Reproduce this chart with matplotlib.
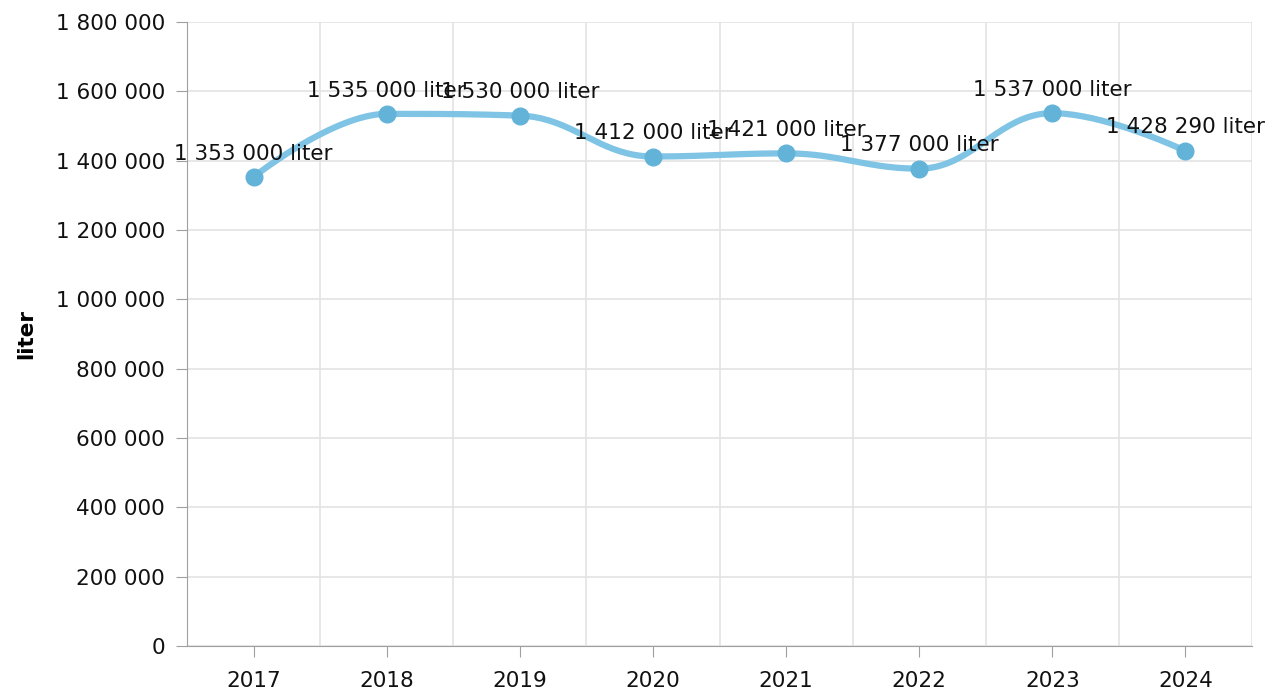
import matplotlib.pyplot as plt
import numpy as np

years = ['2017', '2018', '2019', '2020', '2021', '2022', '2023', '2024']
volumes = [1353000, 1535000, 1530000, 1412000, 1421000, 1377000, 1537000, 1428290]
y_ticks = [0, 200000, 400000, 600000, 800000, 1000000, 1200000, 1400000, 1600000, 1800000]


def fmt(v):
    return f"{v:,}".replace(',', ' ')


def spline(xs, ys, n=40):
    # same idea as a highcharts "spline" series: bezier through each point
    smoothing = 1.5
    denom = smoothing + 1
    conts = []
    for i in range(len(xs)):
        if i == 0 or i == len(xs) - 1:
            conts.append((xs[i], ys[i], xs[i], ys[i]))
            continue
        lx, ly = xs[i - 1], ys[i - 1]
        nx, ny = xs[i + 1], ys[i + 1]
        px, py = xs[i], ys[i]
        lcx = (smoothing * px + lx) / denom
        lcy = (smoothing * py + ly) / denom
        rcx = (smoothing * px + nx) / denom
        rcy = (smoothing * py + ny) / denom
        corr = ((rcy - lcy) * (rcx - px)) / (rcx - lcx) + py - rcy
        lcy += corr
        rcy += corr
        if lcy > ly and lcy > py:
            lcy = max(ly, py)
            rcy = 2 * py - lcy
        elif lcy < ly and lcy < py:
            lcy = min(ly, py)
            rcy = 2 * py - lcy
        if rcy > ny and rcy > py:
            rcy = max(ny, py)
            lcy = 2 * py - rcy
        elif rcy < ny and rcy < py:
            rcy = min(ny, py)
            lcy = 2 * py - rcy
        conts.append((lcx, lcy, rcx, rcy))
    t = np.linspace(0, 1, n)
    ox, oy = [], []
    for i in range(len(xs) - 1):
        p0 = np.array([xs[i], ys[i]])
        p1 = np.array([conts[i][2], conts[i][3]])
        p2 = np.array([conts[i + 1][0], conts[i + 1][1]])
        p3 = np.array([xs[i + 1], ys[i + 1]])
        b = ((1 - t) ** 3)[:, None] * p0 + (3 * (1 - t) ** 2 * t)[:, None] * p1 \
            + (3 * (1 - t) * t ** 2)[:, None] * p2 + (t ** 3)[:, None] * p3
        ox.extend(b[:, 0])
        oy.extend(b[:, 1])
    return np.array(ox), np.array(oy)


plt.rcParams['font.family'] = ['DejaVu Sans']

fig = plt.figure(figsize=(12.7, 6.93), dpi=100)
ax = fig.add_axes([187 / 1270, 47 / 693, 1065 / 1270, 624 / 693])

x = np.arange(len(years))
sx, sy = spline(list(x), volumes)
ax.plot(sx, sy, color='#7fc4e4', lw=4.5, solid_capstyle='round', zorder=3)
ax.plot(x, volumes, 'o', color='#63b3d9', ms=12, zorder=4)

for xi, v in zip(x, volumes):
    ax.annotate(fmt(v) + ' liter', (xi, v), xytext=(0, 12.5), textcoords='offset points',
                ha='center', va='baseline', fontsize=15.5, color='#111111', zorder=5)

ax.set_xlim(-0.5, len(years) - 0.5)
ax.set_ylim(0, 1800000)
ax.set_yticks(y_ticks)
ax.set_yticklabels([fmt(v) for v in y_ticks])
ax.set_xticks(x)
ax.set_xticklabels(years)
ax.set_xticks(np.arange(-0.5, len(years) + 0.5, 1), minor=True)

ax.grid(axis='y', color='#e3e3e3', lw=1.2)
ax.grid(axis='x', which='minor', color='#e3e3e3', lw=1.2)
ax.set_axisbelow(True)

for s in ['top', 'right']:
    ax.spines[s].set_visible(False)
ax.spines['left'].set_color('#a0a0a0')
ax.spines['bottom'].set_color('#a0a0a0')
ax.tick_params(axis='y', length=8, color='#a0a0a0', labelsize=15.5, pad=8, labelcolor='#111111')
ax.tick_params(axis='x', which='major', length=8, color='#a0a0a0', labelsize=15.5, pad=10, labelcolor='#111111')
ax.tick_params(axis='x', which='minor', length=0)

ax.set_ylabel('liter', fontsize=15.5, fontweight='bold', labelpad=14)

fig.savefig('out.png', dpi=100)
